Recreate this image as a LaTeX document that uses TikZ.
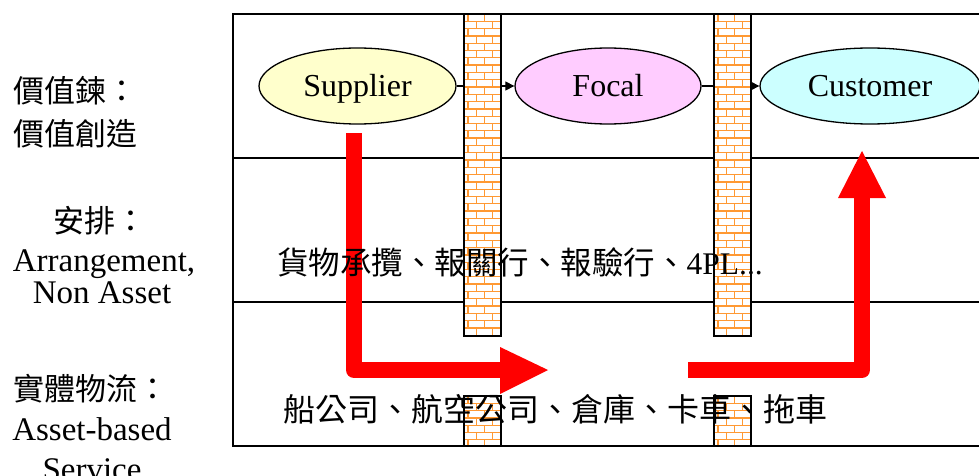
\documentclass[tikz,border=0pt]{standalone}
\usepackage{fontspec}
\setmainfont{Liberation Serif}
\newfontfamily\cjkfont{Noto Sans CJK TC}
\usetikzlibrary{shapes.geometric,arrows.meta}
\definecolor{brickorange}{RGB}{255,153,51}
\definecolor{supfill}{RGB}{255,255,204}
\definecolor{focfill}{RGB}{255,204,255}
\definecolor{cusfill}{RGB}{204,255,255}
\newcommand\mybrickwall[4]{%
  \begin{scope}
    \clip (#1,#2) rectangle (#3,#4);
    \fill[white] (#1,#2) rectangle (#3,#4);
    \foreach \r in {0,...,45} {
      \pgfmathsetmacro\yy{#2+\r*7.3}
      \draw[brickline] (#1,\yy) -- (#3,\yy);
      \pgfmathsetmacro\off{mod(\r,2)*8.25}
      \foreach \c in {0,...,3} {
        \pgfmathsetmacro\xx{#1+\off+\c*16.5+4}
        \draw[brickline] (\xx,\yy) -- (\xx,\yy+7.3);
      }
    }
  \end{scope}
  \draw[wallborder] (#1,#2) rectangle (#3,#4);
}
\begin{document}
\begin{tikzpicture}[x=1pt,y=-1pt,
  frame/.style={draw=black,line width=2pt},
  divider/.style={draw=black,line width=2.5pt},
  brickline/.style={draw=brickorange,line width=1.3pt},
  wallborder/.style={draw=black,line width=1.5pt},
  party/.style={ellipse,draw=black,line width=1.3pt,inner sep=0pt,
    minimum height=76pt,text height=21pt,text depth=0pt,
    font=\fontsize{32}{38}\selectfont},
  link/.style={draw=black,line width=1.2pt,-{Triangle[length=9pt,width=9pt]}},
  redshaft/.style={draw=red,line width=16pt,line join=round,line cap=butt},
  redhead/.style={fill=red},
  lbl/.style={inner sep=0pt,anchor=base},
  cjkL/.style={font={\cjkfont\fontsize{31}{36}\selectfont}},
  latL/.style={font={\fontsize{33}{38}\selectfont}},
  cjkM/.style={font={\fontsize{31.5}{36}\selectfont}},
  cjkB/.style={font={\cjkfont\fontsize{32}{36}\selectfont}}
]
\useasboundingbox (0,0) rectangle (979,476);
\clip (0,0) rectangle (979,476);

% frame and lane dividers
\draw[frame] (233,14) rectangle (995,446);
\draw[divider] (233,158) -- (995,158);
\draw[divider] (233,302) -- (995,302);

% parties
\node[party,fill=supfill,minimum width=197pt] (sup) at (357.5,86) {Supplier};
\node[party,fill=focfill,minimum width=186pt] (foc) at (608,86) {Focal};
\node[party,fill=cusfill,minimum width=220pt] (cus) at (870,86) {Customer};
\draw[link] (sup) -- (foc);
\draw[link] (foc) -- (cus);

% brick walls
\mybrickwall{464}{14}{501}{336}
\mybrickwall{464}{396}{501}{446}
\mybrickwall{714}{14}{751}{336}
\mybrickwall{714}{396}{751}{446}

% red flow arrows
\coordinate (r1s) at (354,133);
\coordinate (r1e) at (500,370);
\draw[redshaft] (r1s) |- (r1e);
\fill[redhead] (500,347) -- (548,370) -- (500,394) -- cycle;
\coordinate (r2s) at (688,370);
\coordinate (r2e) at (862,198);
\draw[redshaft] (r2s) -| (r2e);
\fill[redhead] (838,198) -- (862,151) -- (886,198) -- cycle;

% left labels
\node[lbl,anchor=base west,cjkL] (l1a) at (13,102.5) {價值鍊：};
\node[lbl,anchor=base west,cjkL] (l1b) at (13,145.5) {價值創造};
\node[lbl,cjkL] (l2a) at (100,232) {安排：};
\node[lbl,latL] (l2b) at (104,271) {Arrangement,};
\node[lbl,latL] (l2c) at (102,303) {Non Asset};
\node[lbl,anchor=base west,cjkL] (l3a) at (13,400) {實體物流：};
\node[lbl,latL] (l3b) at (92,440) {Asset-based};
\node[lbl,latL] (l3c) at (92,480) {Service};

% lane texts
\node[lbl,anchor=base west,cjkM] (mid) at (277,274) {{\cjkfont 貨物承攬、報關行、報驗行、}4PL...};
\node[lbl,anchor=base west,cjkB] (bot) at (283,421) {船公司、航空公司、倉庫、卡車、拖車};
\end{tikzpicture}
\end{document}
